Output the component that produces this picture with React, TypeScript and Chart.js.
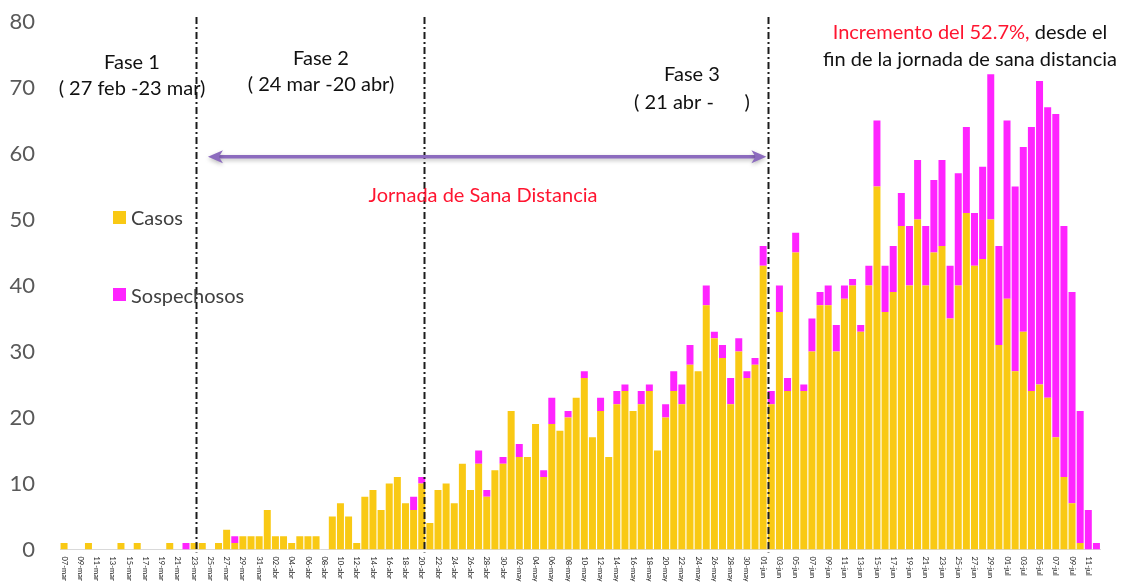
import React, { useEffect, useRef } from 'react';
import { Chart, registerables } from 'chart.js';

Chart.register(...registerables);

// ---- Data ----
const fechas: string[] = [
  '07-mar','08-mar','09-mar','10-mar','11-mar','12-mar','13-mar','14-mar','15-mar','16-mar',
  '17-mar','18-mar','19-mar','20-mar','21-mar','22-mar','23-mar','24-mar','25-mar','26-mar',
  '27-mar','28-mar','29-mar','30-mar','31-mar',
  '01-abr','02-abr','03-abr','04-abr','05-abr','06-abr','07-abr','08-abr','09-abr','10-abr',
  '11-abr','12-abr','13-abr','14-abr','15-abr','16-abr','17-abr','18-abr','19-abr','20-abr',
  '21-abr','22-abr','23-abr','24-abr','25-abr','26-abr','27-abr','28-abr','29-abr','30-abr',
  '01-may','02-may','03-may','04-may','05-may','06-may','07-may','08-may','09-may','10-may',
  '11-may','12-may','13-may','14-may','15-may','16-may','17-may','18-may','19-may','20-may',
  '21-may','22-may','23-may','24-may','25-may','26-may','27-may','28-may','29-may','30-may','31-may',
  '01-jun','02-jun','03-jun','04-jun','05-jun','06-jun','07-jun','08-jun','09-jun','10-jun',
  '11-jun','12-jun','13-jun','14-jun','15-jun','16-jun','17-jun','18-jun','19-jun','20-jun',
  '21-jun','22-jun','23-jun','24-jun','25-jun','26-jun','27-jun','28-jun','29-jun','30-jun',
  '01-jul','02-jul','03-jul','04-jul','05-jul','06-jul','07-jul','08-jul','09-jul','10-jul',
  '11-jul','12-jul'
];

const casos: number[] = [
  1,0,0,1,0,0,0,1,0,1,
  0,0,0,1,0,0,1,1,0,1,
  3,1,2,2,2,6,2,2,1,2,
  2,2,0,5,7,5,1,8,9,6,
  10,11,7,6,10,4,9,10,7,13,
  9,13,8,12,13,21,14,14,19,11,
  19,18,20,23,26,17,21,14,22,24,
  21,22,24,15,20,24,22,28,27,37,
  32,29,22,30,26,28,43,22,36,24,
  45,24,30,37,37,30,38,40,33,40,
  55,36,39,49,40,50,40,45,46,35,
  40,51,43,44,50,31,38,27,33,24,
  25,23,17,11,7,1,0,0
];

const sospechosos: number[] = [
  0,0,0,0,0,0,0,0,0,0,
  0,0,0,0,0,1,0,0,0,0,
  0,1,0,0,0,0,0,0,0,0,
  0,0,0,0,0,0,0,0,0,0,
  0,0,0,2,1,0,0,0,0,0,
  0,2,1,0,1,0,2,0,0,1,
  4,0,1,0,1,0,2,0,2,1,
  0,2,1,0,2,3,3,3,0,3,
  1,2,4,2,1,1,3,2,4,2,
  3,1,5,2,3,4,2,1,1,3,
  10,7,7,5,9,9,9,11,13,8,
  17,13,8,14,22,15,27,28,28,40,
  46,44,49,38,32,20,6,1
];

const yTicks: number[] = [0, 10, 20, 30, 40, 50, 60, 70, 80];

// phase separators and arrow, in category units (fractional index)
const faseLineas: number[] = [16.2, 44.3, 86.55];
const flechaDesde = 17.7;
const flechaHasta = 86.4;
const flechaValor = 59.5;

const COLOR_CASOS = '#F9C914';
const COLOR_SOSP = '#FF24FF';
const FONT = 'Lato, "Open Sans", sans-serif';

const overlayPlugin = {
  id: 'overlay',
  afterDraw(chart: any) {
    const ctx: CanvasRenderingContext2D = chart.ctx;
    const xs = chart.scales.x;
    const ys = chart.scales.y;
    const x0 = xs.getPixelForValue(0);
    const step = xs.getPixelForValue(1) - x0;
    const xAt = (f: number) => x0 + f * step;

    // x tick labels (every 2 days, reading top to bottom)
    ctx.save();
    ctx.font = `7.5px ${FONT}`;
    ctx.fillStyle = '#222222';
    ctx.textAlign = 'left';
    ctx.textBaseline = 'middle';
    for (let i = 0; i < fechas.length; i += 2) {
      const x = xs.getPixelForValue(i);
      ctx.save();
      ctx.translate(x, chart.chartArea.bottom + 7);
      ctx.rotate(Math.PI / 2);
      ctx.fillText(fechas[i], 0, 0);
      ctx.restore();
    }
    ctx.restore();

    // dash-dot phase lines
    ctx.save();
    ctx.strokeStyle = '#1c1c1c';
    ctx.lineWidth = 2;
    ctx.setLineDash([7, 3, 2, 3]);
    for (const f of faseLineas) {
      const x = Math.round(xAt(f)) + 0.5;
      ctx.beginPath();
      ctx.moveTo(x, 17);
      ctx.lineTo(x, chart.chartArea.bottom + 3);
      ctx.stroke();
    }
    ctx.restore();

    // double-headed arrow
    const ay = ys.getPixelForValue(flechaValor);
    const ax1 = xAt(flechaDesde);
    const ax2 = xAt(flechaHasta);
    ctx.save();
    ctx.shadowColor = 'rgba(0,0,0,0.25)';
    ctx.shadowBlur = 4;
    ctx.shadowOffsetY = 2;
    ctx.strokeStyle = '#8C6BBE';
    ctx.fillStyle = '#8C6BBE';
    ctx.lineWidth = 3.5;
    ctx.beginPath();
    ctx.moveTo(ax1 + 10, ay);
    ctx.lineTo(ax2 - 10, ay);
    ctx.stroke();
    const head = (tip: number, dir: number) => {
      ctx.beginPath();
      ctx.moveTo(tip, ay);
      ctx.lineTo(tip + dir * 15, ay - 6.5);
      ctx.lineTo(tip + dir * 11, ay);
      ctx.lineTo(tip + dir * 15, ay + 6.5);
      ctx.closePath();
      ctx.fill();
    };
    head(ax1, 1);
    head(ax2, -1);
    ctx.restore();

    // texts
    ctx.save();
    ctx.textBaseline = 'middle';
    ctx.textAlign = 'center';
    ctx.fillStyle = '#111111';
    ctx.font = `20px ${FONT}`;
    ctx.fillText('Fase 1', 132, 63);
    ctx.fillText('( 27 feb -23 mar)', 132, 89);
    ctx.fillText('Fase 2', 321, 59);
    ctx.fillText('( 24 mar -20 abr)', 321, 85);
    ctx.fillText('Fase 3', 692, 75);
    ctx.fillText('( 21 abr -      )', 692, 103);

    ctx.fillStyle = '#FF1530';
    ctx.fillText('Jornada de Sana Distancia', 483, 196);

    // increment note
    const t1 = 'Incremento del 52.7%,';
    const t2 = ' desde el';
    const w1 = ctx.measureText(t1).width;
    const w2 = ctx.measureText(t2).width;
    const sx = 970 - (w1 + w2) / 2;
    ctx.textAlign = 'left';
    ctx.fillStyle = '#FF1530';
    ctx.fillText(t1, sx, 33);
    ctx.fillStyle = '#111111';
    ctx.fillText(t2, sx + w1, 33);
    ctx.textAlign = 'center';
    ctx.fillText('fin de la jornada de sana distancia', 970, 60);

    // legend
    ctx.fillStyle = COLOR_CASOS;
    ctx.fillRect(113, 211, 13, 13);
    ctx.fillStyle = COLOR_SOSP;
    ctx.fillRect(113, 288, 13, 13);
    ctx.textAlign = 'left';
    ctx.fillStyle = '#404040';
    ctx.font = `20px ${FONT}`;
    ctx.fillText('Casos', 131, 219);
    ctx.fillText('Sospechosos', 131, 297);
    ctx.restore();
  },
};

export default function App() {
  const canvasRef = useRef<HTMLCanvasElement | null>(null);

  useEffect(() => {
    document.body.style.margin = '0';
    const canvas = canvasRef.current;
    if (!canvas) return;
    const chart = new Chart(canvas, {
      type: 'bar',
      data: {
        labels: fechas,
        datasets: [
          {
            label: 'Casos',
            data: casos,
            backgroundColor: COLOR_CASOS,
            borderWidth: 0,
            barPercentage: 0.86,
            categoryPercentage: 1,
          },
          {
            label: 'Sospechosos',
            data: sospechosos,
            backgroundColor: COLOR_SOSP,
            borderWidth: 0,
            barPercentage: 0.86,
            categoryPercentage: 1,
          },
        ],
      },
      options: {
        responsive: false,
        animation: false,
        layout: { padding: { top: 21.5, right: 23.5, bottom: 0, left: 0 } },
        plugins: {
          legend: { display: false },
          tooltip: { enabled: false },
        },
        scales: {
          x: {
            stacked: true,
            grid: { display: false, drawTicks: false },
            border: { display: true, color: '#d9d9d9', width: 1 },
            ticks: { display: false },
            afterFit: (s: any) => {
              s.height = 34.5;
              s.paddingLeft = 0;
              s.paddingRight = 0;
            },
          },
          y: {
            stacked: true,
            min: 0,
            max: 80,
            afterBuildTicks: (s: any) => {
              s.ticks = yTicks.map((v) => ({ value: v }));
            },
            ticks: {
              padding: 25,
              color: '#595959',
              font: { family: FONT, size: 22 },
            },
            grid: { display: false, drawTicks: false },
            border: { display: false },
            afterFit: (s: any) => {
              s.width = 60;
              s.paddingTop = 0;
              s.paddingBottom = 0;
            },
          },
        },
      },
      plugins: [overlayPlugin],
    });
    return () => chart.destroy();
  }, []);

  return (
    <div style={{ width: 1124, height: 584 }}>
      <canvas ref={canvasRef} width={1124} height={584} style={{ display: 'block' }} />
    </div>
  );
}
